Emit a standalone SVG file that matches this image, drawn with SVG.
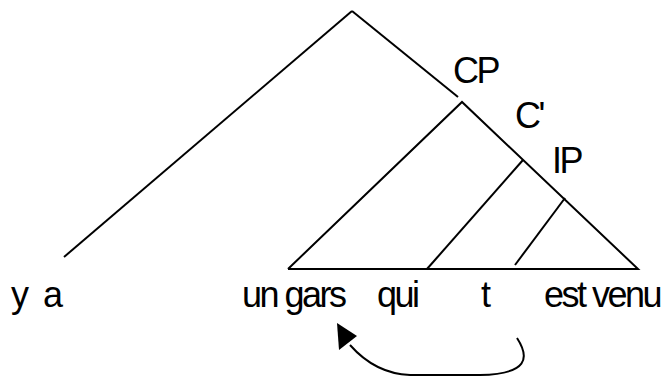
<svg xmlns="http://www.w3.org/2000/svg" width="667" height="376" viewBox="0 0 667 376">
<style>
.ln{stroke:#000;stroke-width:2;fill:none;stroke-linecap:butt}
.t{font-family:"Liberation Sans",Arial,sans-serif;font-size:36px;fill:#000;letter-spacing:-2.5px}
</style>
<rect width="667" height="376" fill="#fff"/>
<g id="connectors">
<line class="ln" x1="352" y1="11" x2="64" y2="257"/>
<line class="ln" x1="352" y1="11" x2="458" y2="97"/>
<polyline class="ln" points="288,269 462,102 638,269 288,269"/>
<line class="ln" x1="523" y1="160" x2="427" y2="269"/>
<line class="ln" x1="565" y1="198" x2="515" y2="265"/>
<path class="ln" d="M517,338 C530,358 528,374 480,375 L410,375 C385,374 365,362 350,345"/>
<polygon points="337,323 339,350 357,336" fill="#000"/>
</g>
<g id="n-CP"><text class="t" x="453" y="83">CP</text></g>
<g id="n-C1"><text class="t" x="515" y="128">C'</text></g>
<g id="n-IP"><text class="t" x="552" y="173">IP</text></g>
<g id="n-ya"><text class="t" x="11" y="307">y<tspan dx="9"> a</tspan></text></g>
<g id="n-ungars"><text class="t" x="242" y="307">un gars</text></g>
<g id="n-qui"><text class="t" x="377" y="307">qui</text></g>
<g id="n-t"><text class="t" x="481" y="307">t</text></g>
<g id="n-estvenu"><text class="t" x="544" y="307">est venu</text></g>
</svg>
